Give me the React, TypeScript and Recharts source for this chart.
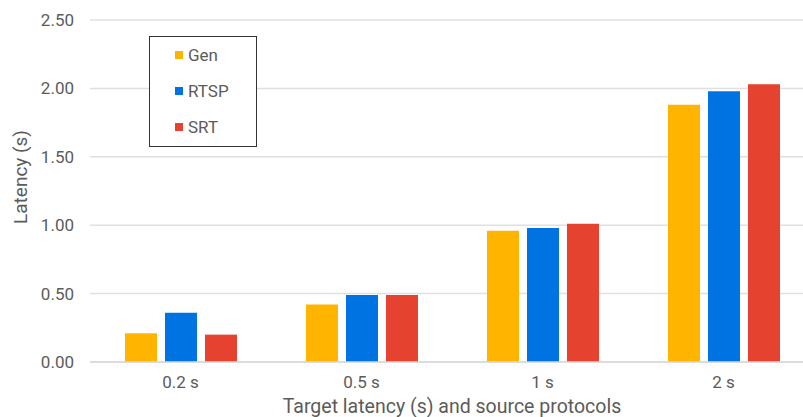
import React from 'react';
import { BarChart, Bar, XAxis, YAxis, CartesianGrid, Legend, Label } from 'recharts';

// Target latency settings (x categories)
const categories = ['0.2 s', '0.5 s', '1 s', '2 s'];
// Measured latency per source protocol, in seconds
const genValues = [0.21, 0.42, 0.96, 1.88];
const rtspValues = [0.36, 0.49, 0.98, 1.98];
const srtValues = [0.2, 0.49, 1.01, 2.03];
const yTicks = [0, 0.5, 1, 1.5, 2, 2.5];

const seriesNames = ['Gen', 'RTSP', 'SRT'];
const seriesColors = ['#FFB400', '#0073E2', '#E5422F'];

const data = categories.map((target, i) => ({
  target,
  Gen: genValues[i],
  RTSP: rtspValues[i],
  SRT: srtValues[i],
}));

const FONT = 'Roboto, Arial, sans-serif';
const TEXT = '#5b5b5b';

const LegendBox = (props: any) => {
  const payload = props.payload || [];
  return (
    <div
      style={{
        width: 108,
        height: 111,
        border: '1px solid #333',
        boxSizing: 'border-box',
        background: '#fff',
        fontFamily: FONT,
        fontSize: 17,
        color: TEXT,
        paddingTop: 0,
      }}
    >
      {payload.map((p: any) => (
        <div
          key={p.value}
          style={{ display: 'flex', alignItems: 'center', height: 36, paddingLeft: 25 }}
        >
          <span
            style={{ display: 'inline-block', width: 8, height: 8, background: p.color, marginRight: 5 }}
          />
          <span>{p.value}</span>
        </div>
      ))}
    </div>
  );
};

export default function App() {
  return (
    <div
      style={{
        position: 'absolute',
        left: 0,
        top: 0,
        width: 803,
        height: 417,
        overflow: 'hidden',
        background: '#fff',
      }}
    >
      <BarChart
        width={820}
        height={417}
        data={data}
        margin={{ top: 20, right: 6, bottom: 25, left: 0 }}
        barSize={32}
        barGap={8}
      >
        <CartesianGrid vertical={false} stroke="#e0e0e0" strokeWidth={1.5} />
        <XAxis
          dataKey="target"
          height={30}
          axisLine={{ stroke: '#d9d9d9', strokeWidth: 1.5 }}
          tickLine={false}
          tickSize={6}
          tickMargin={8}
          tick={{ fill: TEXT, fontSize: 17, fontFamily: FONT }}
        >
          <Label
            content={(p: any) => {
              const vb = p.viewBox || {};
              return (
                <text
                  x={vb.x + vb.width / 2}
                  y={413}
                  textAnchor="middle"
                  fill={TEXT}
                  fontSize={19.5}
                  fontFamily={FONT}
                >
                  Target latency (s) and source protocols
                </text>
              );
            }}
          />
        </XAxis>
        <YAxis
          width={90}
          domain={[0, 2.5]}
          ticks={yTicks}
          axisLine={false}
          tickLine={false}
          tickSize={6}
          tickMargin={10}
          tickFormatter={(v: number) => v.toFixed(2)}
          tick={{ fill: TEXT, fontSize: 17, fontFamily: FONT }}
        >
          <Label
            content={() => (
              <text
                x={0}
                y={0}
                transform="translate(27, 177) rotate(-90)"
                textAnchor="middle"
                fill={TEXT}
                fontSize={19}
                fontFamily={FONT}
              >
                Latency (s)
              </text>
            )}
          />
        </YAxis>
        <Legend
          layout="horizontal"
          verticalAlign="middle"
          align="center"
          content={<LegendBox />}
          wrapperStyle={{ position: 'absolute', left: 149, top: 36, width: 'auto' }}
        />
        {seriesNames.map((name, i) => (
          <Bar key={name} dataKey={name} fill={seriesColors[i]} isAnimationActive={false} />
        ))}
      </BarChart>
    </div>
  );
}
